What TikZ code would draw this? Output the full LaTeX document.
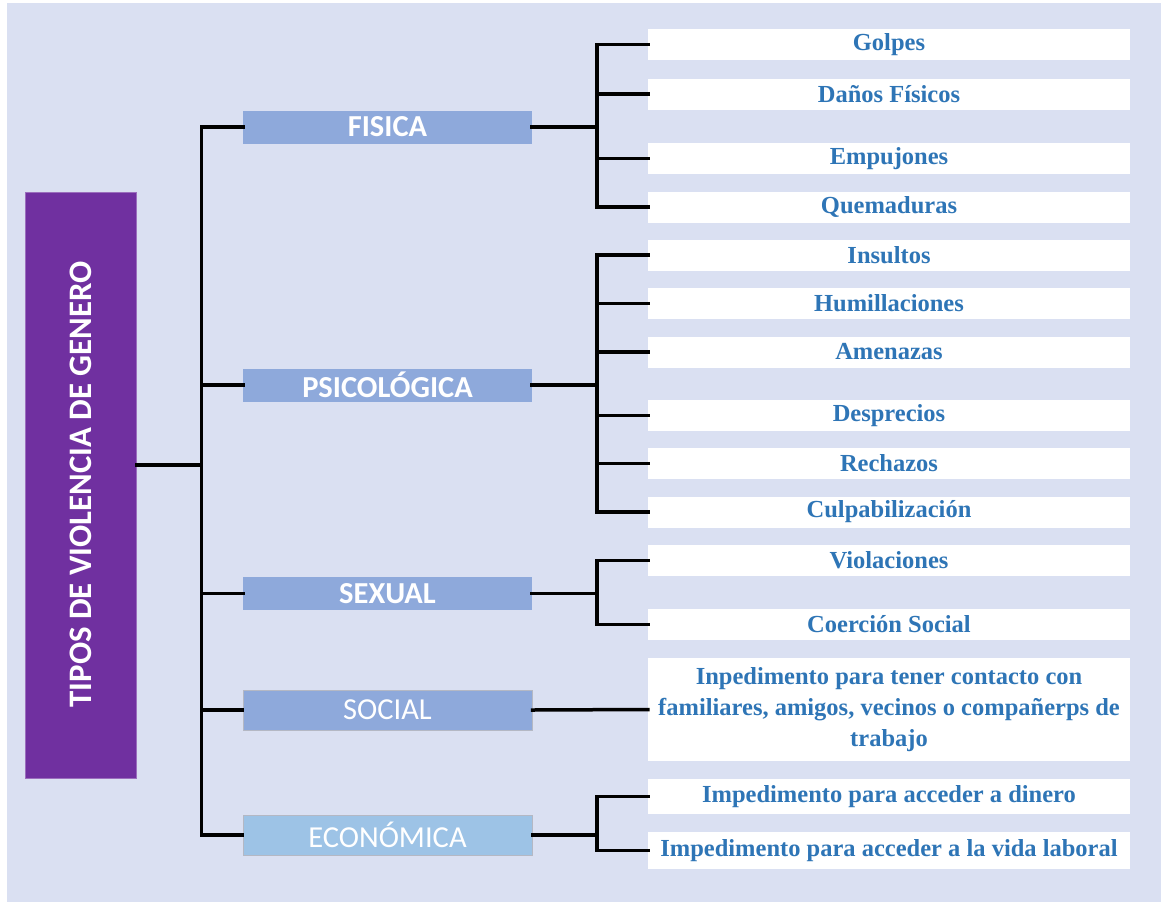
\documentclass[tikz,border=0pt]{standalone}
\usepackage{fontspec}
\setmainfont{Liberation Serif}
\setsansfont{Carlito}
\definecolor{bgc}{HTML}{DAE0F2}
\definecolor{rootc}{HTML}{7030A0}
\definecolor{catc}{HTML}{8EA9DB}
\definecolor{ecoc}{HTML}{9DC3E6}
\definecolor{leaftxt}{HTML}{2E75B6}
\definecolor{catborder}{HTML}{B4B8C4}
\begin{document}
\begin{tikzpicture}[x=1pt,y=-1pt,
  rootbox/.style={fill=rootc,draw=rootc!70!white,line width=0.8pt,inner sep=0pt,minimum width=111pt,minimum height=586pt},
  catbox/.style={fill=catc,inner sep=0pt,minimum width=289pt,minimum height=33pt,text=white,font=\sffamily\fontsize{30.5}{31}\selectfont},
  catboldbox/.style={catbox,font=\sffamily\bfseries\fontsize{30.5}{31}\selectfont},
  catboxb/.style={catbox,draw=catborder,line width=1pt,minimum height=40pt},
  leafbox/.style={fill=white,inner sep=0pt,minimum width=482pt,minimum height=31pt,text=leaftxt,font=\bfseries\fontsize{24.5}{31}\selectfont,align=center},
  link/.style={line width=3.5pt,black,line cap=rect}
]
\useasboundingbox (0,0) rectangle (1161,902);
\fill[white] (0,0) rectangle (1161,902);
\fill[bgc] (7,3) rectangle (1161,902);

% root
\node[rootbox] (root) at (80.5,485) {};
\node[rotate=90,text=white,font=\sffamily\bfseries\fontsize{32.8}{34}\selectfont] (roottxt) at (80.5,484.5) {TIPOS DE VIOLENCIA DE GENERO};

% categories
\node[catboldbox] (fis) at (387.5,127) {FISICA};
\node[catboldbox] (psi) at (387.5,385) {PSICOLÓGICA};
\node[catboldbox] (sex) at (387.5,593.5) {SEXUAL};
\node[catboxb] (soc) at (387.5,710) {SOCIAL};
\node[catboxb,fill=ecoc] (eco) at (387.5,835) {ECONÓMICA};

% leaves
\node[leafbox] (l1) at (889,44.5) {Golpes};
\node[leafbox] (l2) at (889,94) {Daños Físicos};
\node[leafbox] (l3) at (889,158.5) {Empujones};
\node[leafbox] (l4) at (889,207) {Quemaduras};
\node[leafbox] (l5) at (889,255) {Insultos};
\node[leafbox] (l6) at (889,303.5) {Humillaciones};
\node[leafbox] (l7) at (889,352) {Amenazas};
\node[leafbox] (l8) at (889,415.5) {Desprecios};
\node[leafbox] (l9) at (889,463.5) {Rechazos};
\node[leafbox] (l10) at (889,512) {Culpabilización};
\node[leafbox] (l11) at (889,560.5) {Violaciones};
\node[leafbox] (l12) at (889,624.5) {Coerción Social};
\node[leafbox,minimum height=103pt] (l13) at (889,709.5) {Inpedimento para tener contacto con\\familiares, amigos, vecinos o compañerps de\\trabajo};
\node[leafbox,minimum height=35pt] (l14) at (889,796.5) {Impedimento para acceder a dinero};
\node[leafbox,minimum height=37pt] (l15) at (889,850.5) {Impedimento para acceder a la vida laboral};

% root trunk
\coordinate (rt) at (201.5,465);
\draw[link] (root.east |- rt) -- (rt);
\draw[link] (fis.west) -| (rt) |- (eco.west);
\draw[link] (psi.west) -- (psi.west -| rt);
\draw[link] (sex.west) -- (sex.west -| rt);
\draw[link] (soc.west) -- (soc.west -| rt);

% sub trunks
\coordinate (st) at (597,0);
\draw[link] (fis.east) -- (fis.east -| st);
\draw[link] (l1.west) -| (st |- l1.west) |- (l4.west);
\draw[link] (l2.west) -- (l2.west -| st);
\draw[link] (l3.west) -- (l3.west -| st);

\draw[link] (psi.east) -- (psi.east -| st);
\draw[link] (l5.west) -| (st |- l5.west) |- (l10.west);
\foreach \n in {l6,l7,l8,l9} \draw[link] (\n.west) -- (\n.west -| st);

\draw[link] (sex.east) -- (sex.east -| st);
\draw[link] (l11.west) -| (st |- l11.west) |- (l12.west);

\draw[link] (soc.east) -- (l13.west);

\draw[link] (eco.east) -- (eco.east -| st);
\draw[link] (l14.west) -| (st |- l14.west) |- (l15.west);
\end{tikzpicture}
\end{document}
